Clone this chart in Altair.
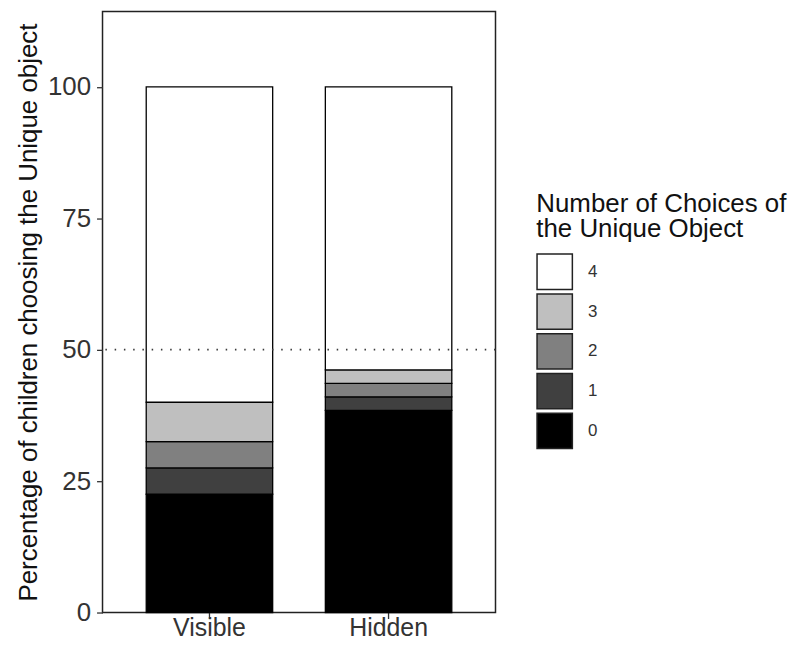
import altair as alt
import pandas as pd

conditions = ["Visible", "Hidden"]
choices = ["0", "1", "2", "3", "4"]
visible_pct = [22.5, 5.0, 5.0, 7.5, 60.0]
hidden_pct = [38.46, 2.56, 2.56, 2.56, 53.85]
grey_colors = ["#000000", "#404040", "#808080", "#bfbfbf", "#ffffff"]
y_ticks = [0, 25, 50, 75, 100]
reference_line = [50]

rows = []
for cond, vals in zip(conditions, [visible_pct, hidden_pct]):
    for ch, v in zip(choices, vals):
        rows.append({"Condition": cond, "Choice": ch, "order": int(ch), "Percent": v})
df = pd.DataFrame(rows)
ref_df = pd.DataFrame({"y": reference_line})

FONT = "Liberation Sans"

bars = alt.Chart(df).mark_bar(stroke="black", strokeWidth=1.3).encode(
    x=alt.X("Condition:N", sort=conditions,
            scale=alt.Scale(paddingInner=0.294, paddingOuter=0.244),
            axis=alt.Axis(title=None, labelAngle=0, labelPadding=-3, labelFontSize=25)),
    y=alt.Y("Percent:Q", stack="zero",
            scale=alt.Scale(domain=[0, 114.3], nice=False),
            axis=alt.Axis(values=y_ticks,
                          title="Percentage of children choosing the Unique object")),
    color=alt.Color("Choice:N",
                    scale=alt.Scale(domain=choices[::-1], range=grey_colors[::-1]),
                    legend=alt.Legend(title=["Number of Choices of", " the Unique Object"],
                                      orient="none", legendX=436, legendY=180)),
    order=alt.Order("order:Q", sort="ascending"),
)

rule = alt.Chart(ref_df).mark_rule(color="#3a3a3a", strokeWidth=1.6,
                                   strokeDash=[1.5, 7.8]).encode(
    y=alt.Y("y:Q")
)

chart = alt.layer(bars, rule).properties(
    width=395, height=604,
    autosize=alt.AutoSizeParams(type="none"),
    padding={"left": 95, "top": 2, "right": 295, "bottom": 28},
).configure_view(
    stroke="#222222", strokeWidth=1.5
).configure_axis(
    labelFont=FONT, titleFont=FONT, labelFontSize=26, titleFontSize=26,
    titleFontWeight="normal", labelColor="#333333", titleColor="#111111",
    tickColor="#333333", tickSize=6, tickWidth=1.3, labelPadding=6,
    domain=False, grid=False, titlePadding=6,
).configure_legend(
    labelFont=FONT, titleFont=FONT, labelFontSize=17, titleFontSize=26,
    titleFontWeight="normal", titleColor="#111111", labelColor="#333333",
    titleLineHeight=26,
    symbolType="square", symbolSize=1260, symbolStrokeColor="#222222",
    symbolStrokeWidth=1.5, rowPadding=-6, labelOffset=15, titlePadding=11,
    titleLimit=400,
)

chart.save("out.html", embed_options={"renderer": "svg", "actions": False})
